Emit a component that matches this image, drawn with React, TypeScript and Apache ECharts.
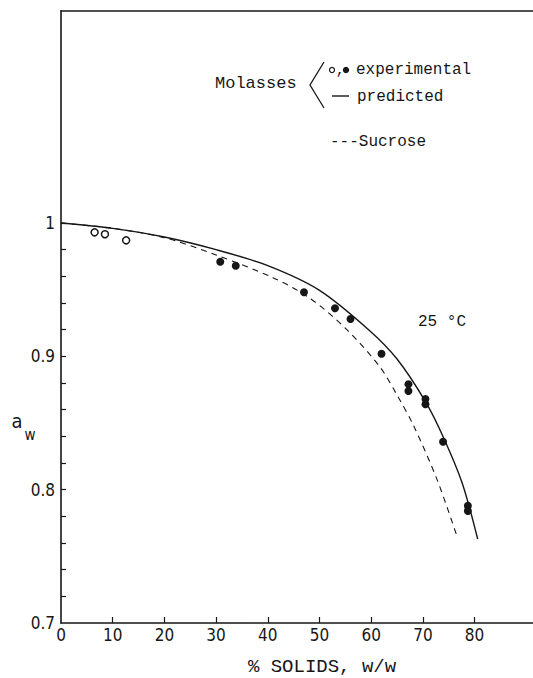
import React, { useEffect, useRef } from "react";
import * as echarts from "echarts";

const xTickValues = [0, 10, 20, 30, 40, 50, 60, 70, 80];
const xMinorTicks = [10, 20, 30, 40, 50, 60, 70, 80];
const yLabelValues = [0.7, 0.8, 0.9, 1];
const yTickValues = [0.72, 0.74, 0.76, 0.78, 0.8, 0.82, 0.84, 0.86, 0.88, 0.9, 0.92, 0.94, 0.96, 0.98, 1.0];

const predictedCurve = [
  [0, 1.0], [10, 0.996], [20, 0.9895], [30, 0.98], [40, 0.968], [50, 0.9495], [59.5, 0.92],
  [65, 0.898], [70.5, 0.866], [74, 0.839], [77.6, 0.805], [80.6, 0.763],
];
const sucroseCurve = [
  [0, 1.0], [10, 0.996], [20, 0.989], [30, 0.976], [41, 0.959], [48, 0.944], [55.3, 0.92],
  [61.7, 0.892], [65, 0.871], [68.2, 0.848], [72.8, 0.807], [76.6, 0.765],
];
const openPoints = [[6.5, 0.993], [8.5, 0.9916], [12.6, 0.987]];
const filledPoints = [
  [30.8, 0.971], [33.8, 0.968], [47, 0.948], [53, 0.936], [56, 0.928], [62, 0.902],
  [67.2, 0.879], [67.2, 0.874], [70.5, 0.868], [70.5, 0.864], [73.9, 0.836],
  [78.7, 0.788], [78.7, 0.784],
];

const INK = "#161616";
const NARROW = "'Liberation Sans Narrow', 'DejaVu Sans Condensed', 'Liberation Sans', sans-serif";
const MONO = "'Liberation Mono', 'DejaVu Sans Mono', monospace";

export default function App() {
  const ref = useRef<HTMLDivElement>(null);
  useEffect(() => {
    const chart = echarts.init(ref.current!, null, { renderer: "svg" });
    chart.setOption({
      animation: false,
      backgroundColor: "#ffffff",
      grid: { left: 61, right: 0, top: 11, bottom: 55 },
      xAxis: [
        {
          type: "value",
          min: 0,
          max: 91.3,
          splitLine: { show: false },
          axisLine: { show: true, lineStyle: { color: INK, width: 1.6 } },
          axisTick: {
            show: true,
            inside: true,
            length: 6,
            customValues: xMinorTicks,
            lineStyle: { color: INK, width: 1.2 },
          },
          axisLabel: {
            show: true,
            customValues: xTickValues,
            margin: 3,
            color: INK,
            fontSize: 17,
            fontFamily: NARROW,
            formatter: (v: number) => String(v),
          },
        },
        {
          type: "value",
          position: "top",
          min: 0,
          max: 91.3,
          splitLine: { show: false },
          axisLine: { show: true, lineStyle: { color: INK, width: 1.6 } },
          axisTick: { show: false },
          axisLabel: { show: false },
        },
      ],
      yAxis: {
        type: "value",
        min: 0.7,
        max: 1.159,
        splitLine: { show: false },
        axisLine: { show: true, lineStyle: { color: INK, width: 1.6 } },
        axisTick: {
          show: true,
          inside: true,
          length: 5,
          customValues: yTickValues,
          lineStyle: { color: INK, width: 1.2 },
        },
        axisLabel: {
          show: true,
          customValues: yLabelValues,
          margin: 6,
          color: INK,
          fontSize: 17,
          fontFamily: NARROW,
          formatter: (v: number) => (Math.abs(v - 1) < 1e-9 ? "1" : v.toFixed(1)),
        },
      },
      series: [
        {
          type: "line",
          name: "predicted",
          data: predictedCurve,
          showSymbol: false,
          smooth: 0.3,
          lineStyle: { color: INK, width: 1.4 },
          z: 2,
        },
        {
          type: "line",
          name: "Sucrose",
          data: sucroseCurve,
          showSymbol: false,
          smooth: 0.3,
          lineStyle: { color: INK, width: 1.1, type: [6, 5] },
          z: 2,
        },
        {
          type: "scatter",
          name: "experimental (open)",
          data: openPoints,
          symbol: "circle",
          symbolSize: 7,
          itemStyle: { color: "#ffffff", borderColor: INK, borderWidth: 1.5, opacity: 1 },
          z: 3,
        },
        {
          type: "scatter",
          name: "experimental",
          data: filledPoints,
          symbol: "circle",
          symbolSize: 8,
          itemStyle: { color: INK, opacity: 1 },
          z: 3,
        },
      ],
      graphic: [
        { type: "text", style: { text: "Molasses", x: 215, y: 83, font: `17px ${MONO}`, fill: INK, align: "left", verticalAlign: "middle" } },
        { type: "polyline", shape: { points: [[324, 62], [310, 85], [324, 108]] }, style: { stroke: INK, lineWidth: 1.3, fill: "none" } },
        { type: "circle", shape: { cx: 332, cy: 70, r: 2.5 }, style: { stroke: INK, lineWidth: 1.2, fill: "#fff" } },
        { type: "text", style: { text: ",", x: 336, y: 70, font: `14px ${MONO}`, fill: INK, align: "left", verticalAlign: "middle" } },
        { type: "circle", shape: { cx: 346, cy: 70, r: 3.2 }, style: { fill: INK } },
        { type: "text", style: { text: "experimental", x: 356, y: 70, font: `16px ${MONO}`, fill: INK, align: "left", verticalAlign: "middle" } },
        { type: "line", shape: { x1: 332, y1: 96, x2: 349, y2: 96 }, style: { stroke: INK, lineWidth: 1.4 } },
        { type: "text", style: { text: "predicted", x: 357, y: 97, font: `16px ${MONO}`, fill: INK, align: "left", verticalAlign: "middle" } },
        { type: "text", style: { text: "---Sucrose", x: 330, y: 142, font: `16px ${MONO}`, fill: INK, align: "left", verticalAlign: "middle" } },
        { type: "text", style: { text: "25 °C", x: 418, y: 322, font: `16px ${MONO}`, fill: INK, align: "left", verticalAlign: "middle" } },
        { type: "text", style: { text: "% SOLIDS, w/w", x: 322, y: 667, font: `19px ${MONO}`, fill: INK, align: "center", verticalAlign: "middle" } },
        { type: "text", style: { text: "a", x: 17, y: 421, font: `20px ${NARROW}`, fill: INK, align: "center", verticalAlign: "middle" } },
        { type: "text", style: { text: "w", x: 30, y: 435, font: `15px ${NARROW}`, fill: INK, align: "center", verticalAlign: "middle" } },
      ],
    });
    return () => chart.dispose();
  }, []);
  return <div ref={ref} style={{ position: "fixed", left: 0, top: 0, width: 533, height: 678 }} />;
}
